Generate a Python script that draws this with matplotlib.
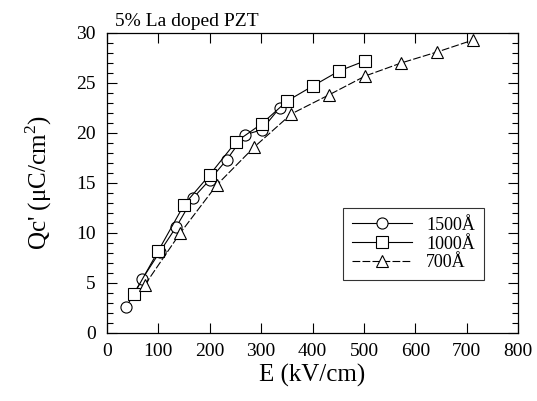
import matplotlib
matplotlib.use("Agg")
import matplotlib.pyplot as plt
from matplotlib.ticker import MultipleLocator

plt.rcParams['font.family'] = ['Liberation Serif', 'DejaVu Serif']
plt.rcParams['mathtext.fontset'] = 'custom'
plt.rcParams['mathtext.rm'] = 'Liberation Serif'

# Data
e_1500 = [38, 69, 103, 135, 168, 200, 233, 268, 301, 336]
q_1500 = [2.6, 5.4, 8.1, 10.6, 13.5, 15.3, 17.3, 19.8, 20.3, 22.5]

e_1000 = [53, 100, 150, 200, 251, 301, 351, 401, 452, 502]
q_1000 = [3.9, 8.2, 12.8, 15.8, 19.1, 20.9, 23.2, 24.7, 26.2, 27.2]

e_700 = [74, 143, 214, 287, 359, 432, 503, 573, 643, 713]
q_700 = [4.8, 10.0, 14.8, 18.6, 21.9, 23.8, 25.7, 27.0, 28.1, 29.3]

labels = ["1500Å", "1000Å", "700Å"]

fig = plt.figure(figsize=(5.37, 4.01), dpi=100)
ax = fig.add_axes([0.199, 0.170, 0.766, 0.748])

lw = 0.8
ax.plot(e_1500, q_1500, color='black', lw=lw, marker='o', ms=8,
        mfc='white', mec='black', mew=0.8, label=labels[0])
ax.plot(e_1000, q_1000, color='black', lw=lw, marker='s', ms=8,
        mfc='white', mec='black', mew=0.8, label=labels[1])
ax.plot(e_700, q_700, color='black', lw=lw, marker='^', ms=8.5,
        mfc='white', mec='black', mew=0.8, ls=(0, (7, 2)), label=labels[2])

ax.set_xlim(0, 800)
ax.set_ylim(0, 30)
ax.xaxis.set_major_locator(MultipleLocator(100))
ax.yaxis.set_major_locator(MultipleLocator(5))
ax.yaxis.set_minor_locator(MultipleLocator(1))
ax.tick_params(which='both', direction='in', top=True, right=True,
               labelsize=14, width=0.8)
ax.tick_params(which='major', length=7)
ax.tick_params(which='minor', length=4)
ax.tick_params(axis='x', pad=7)
ax.tick_params(axis='y', pad=8)
for s in ax.spines.values():
    s.set_linewidth(0.9)

ax.set_xlabel("E (kV/cm)", fontsize=18, labelpad=3)
ax.set_ylabel("Qc' (μC/cm$^2$)", fontsize=18, labelpad=16)
ax.text(0.02, 1.01, "5% La doped PZT", transform=ax.transAxes,
        fontsize=14, ha='left', va='bottom')

leg = ax.legend(loc='upper left', bbox_to_anchor=(0.574, 0.417),
                fontsize=13, frameon=True, fancybox=False, edgecolor='black',
                handlelength=3.3, borderpad=0.5, labelspacing=0.1,
                handletextpad=0.8, borderaxespad=0)
leg.get_frame().set_linewidth(0.8)

fig.savefig("out.png", dpi=100)
